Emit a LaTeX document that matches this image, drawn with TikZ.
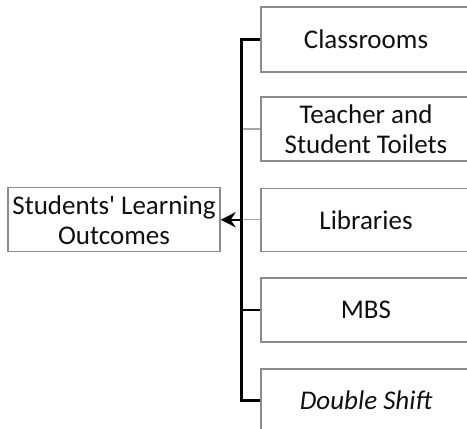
\documentclass[tikz,border=0pt]{standalone}
\usepackage{fontspec}
\setmainfont{Carlito}[Ligatures=TeXOff]
\usetikzlibrary{arrows.meta}
\definecolor{boxgray}{HTML}{8C8C8C}
\definecolor{linegray}{HTML}{A6A6A6}
\definecolor{txt}{HTML}{101010}
\tikzset{
  rbox/.style={draw=boxgray, line width=0.6pt, rectangle, minimum width=105pt, inner sep=0pt,
    text=txt, align=center, font=\fontsize{13.5pt}{15pt}\selectfont},
  lbox/.style={rbox, minimum width=106pt, minimum height=32pt},
  thickline/.style={black, line width=1.2pt},
  thinline/.style={linegray, line width=0.7pt},
}
\begin{document}
\begin{tikzpicture}[x=0.5pt, y=-0.5pt]
\useasboundingbox (0,0) rectangle (467,429);
\clip (0,0) rectangle (467,429);
\node[rbox, minimum height=32.5pt] (c) at (366,39.5) {Classrooms};
\node[rbox, minimum height=32pt] (t) at (366,129) {Teacher and\\Student Toilets};
\node[rbox, minimum height=31.5pt] (l) at (366,219.75) {Libraries};
\node[rbox, minimum height=32pt] (m) at (366,310) {MBS};
\node[rbox, minimum height=31.5pt] (d) at (366,400.5) {\itshape Double Shift};
\node[lbox] (o) at (114,219.75) {Students' Learning\\Outcomes};
\coordinate (j) at (241.5,0);
\draw[thinline] (t.west) -- (t.west -| j);
\draw[thinline] (l.west) -- (l.west -| j);
\draw[thickline] (c.west) -- (c.west -| j) -- (d.west -| j) -- (d.west);
\draw[thickline] (m.west) -- (m.west -| j);
\draw[thickline, -{Stealth[length=7.5pt, width=7.5pt]}] (l.west -| j) -- (o.east);
\end{tikzpicture}
\end{document}
